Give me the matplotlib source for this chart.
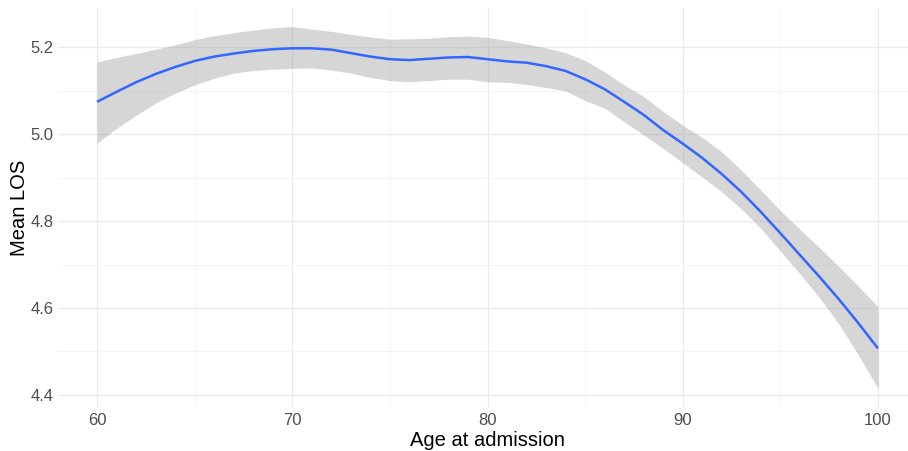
import matplotlib
matplotlib.use('Agg')
import matplotlib.pyplot as plt
from matplotlib.ticker import MultipleLocator

# smoothed mean length of stay by age, with 95% band
age = list(range(60, 101))
los_fit = [5.074, 5.097, 5.119, 5.138, 5.154, 5.168, 5.178, 5.185, 5.191, 5.195,
           5.197, 5.197, 5.194, 5.186, 5.178, 5.172, 5.170, 5.173, 5.176, 5.177,
           5.172, 5.167, 5.164, 5.156, 5.145, 5.126, 5.103, 5.074, 5.044, 5.009,
           4.978, 4.945, 4.908, 4.867, 4.821, 4.772, 4.722, 4.672, 4.620, 4.565,
           4.507]
los_upper = [5.166, 5.176, 5.185, 5.195, 5.205, 5.217, 5.226, 5.233, 5.239, 5.244,
             5.247, 5.241, 5.236, 5.229, 5.223, 5.218, 5.219, 5.220, 5.224, 5.225,
             5.222, 5.215, 5.207, 5.198, 5.187, 5.169, 5.143, 5.113, 5.086, 5.052,
             5.020, 4.992, 4.959, 4.917, 4.871, 4.824, 4.781, 4.739, 4.695, 4.650,
             4.603]
los_lower = [4.979, 5.013, 5.043, 5.071, 5.094, 5.113, 5.128, 5.140, 5.146, 5.149,
             5.151, 5.152, 5.147, 5.140, 5.130, 5.123, 5.120, 5.123, 5.126, 5.126,
             5.120, 5.119, 5.114, 5.107, 5.099, 5.077, 5.059, 5.028, 4.998, 4.967,
             4.934, 4.901, 4.867, 4.828, 4.783, 4.731, 4.679, 4.624, 4.563, 4.492,
             4.415]

plt.rcParams['font.family'] = ['Liberation Sans', 'DejaVu Sans']

W, H = 908, 451
fig = plt.figure(figsize=(W / 100, H / 100), dpi=100)
# panel runs slightly past the right edge
ax = fig.add_axes([58 / W, 44 / H, 859 / W, 399 / H])

ax.fill_between(age, los_lower, los_upper, color='#999999', alpha=0.4, linewidth=0, zorder=2)
ax.plot(age, los_fit, color='#3366FF', linewidth=1.8, zorder=3, solid_capstyle='butt')

ax.set_xlim(58, 102)
ax.set_ylim(4.3724, 5.2897)

ax.xaxis.set_major_locator(MultipleLocator(10))
ax.xaxis.set_minor_locator(MultipleLocator(5))
ax.yaxis.set_major_locator(MultipleLocator(0.2))
ax.yaxis.set_minor_locator(MultipleLocator(0.1))
ax.yaxis.set_major_formatter(matplotlib.ticker.FormatStrFormatter('%.1f'))

ax.grid(which='major', color='#EBEBEB', linewidth=1.0, zorder=0)
ax.grid(which='minor', color='#F2F2F2', linewidth=0.6, zorder=0)
ax.set_axisbelow(True)

for s in ax.spines.values():
    s.set_visible(False)
ax.tick_params(which='both', length=0)
ax.tick_params(axis='x', pad=4.5, labelsize=12, labelcolor='#4D4D4D')
ax.tick_params(axis='y', pad=3.5, labelsize=12, labelcolor='#4D4D4D')

ax.set_xlabel('Age at admission', fontsize=14.5, color='black', labelpad=2)
ax.set_ylabel('Mean LOS', fontsize=14.5, color='black', labelpad=1)

fig.savefig('out.png', dpi=100)
